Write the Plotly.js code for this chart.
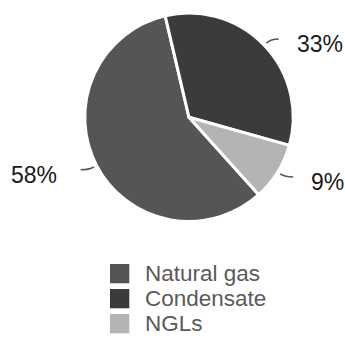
<!DOCTYPE html>
<html>
<head>
<meta charset="utf-8">
<script src="https://cdn.plot.ly/plotly-3.0.1.min.js"></script>
<style>
  html, body { margin: 0; padding: 0; background: #ffffff; }
  #chart { width: 345px; height: 339px; }
</style>
</head>
<body>
<div id="chart"></div>
<script>
// Output split by product (share, %)
const categories = ['Natural gas', 'Condensate', 'NGLs'];
const shares = [58, 33, 9];
const sliceColors = ['#555555', '#3b3b3b', '#b4b4b4'];

const W = 345, H = 339;
const cx = 189, cy = 117.3, R = 104.2;   // pie centre and radius, px
const rotation = 138;                   // start angle of the first slice, deg clockwise from 12 o'clock
const labelFont = { family: 'Liberation Sans, Arial, sans-serif', size: 23, color: '#1a1a1a' };
const legendFont = { family: 'Liberation Sans, Arial, sans-serif', size: 22.5, color: '#5a5a5a' };

const px = x => x / W;
const py = y => 1 - y / H;

const total = shares.reduce((a, b) => a + b, 0);

const pie = {
  type: 'pie',
  labels: categories,
  values: shares,
  sort: false,
  direction: 'clockwise',
  rotation: rotation,
  textinfo: 'none',
  hoverinfo: 'label+percent',
  marker: { colors: sliceColors, line: { color: '#ffffff', width: 3 } },
  domain: { x: [px(cx - R), px(cx + R)], y: [py(cy + R), py(cy - R)] },
  showlegend: false
};

// outside percentage labels with short connectors, placed at each slice's mid-angle
const shapes = [];
const annotations = [];
let acc = 0;
shares.forEach((v, i) => {
  const mid = (rotation + (acc + v / 2) / total * 360) * Math.PI / 180;
  acc += v;
  const s = Math.sin(mid), c = -Math.cos(mid);
  const side = s >= 0 ? 1 : -1;
  const p0 = [cx + (R + 3) * s, cy + (R + 3) * c];
  const p1 = [cx + (R + 9) * s, cy + (R + 9) * c];
  const p2 = [p1[0] + side * 8, p1[1]];
  shapes.push({
    type: 'path', xref: 'paper', yref: 'paper',
    path: `M ${px(p0[0])} ${py(p0[1])} Q ${px(p1[0])} ${py(p1[1])} ${px(p2[0])} ${py(p2[1])}`,
    line: { color: '#555555', width: 1.5 }
  });
  annotations.push({
    xref: 'paper', yref: 'paper', showarrow: false,
    x: px(p2[0] + side * (side > 0 ? 16 : 22)), y: py(p2[1] + 5),
    xanchor: side > 0 ? 'left' : 'right', yanchor: 'middle',
    text: Math.round(v / total * 100) + '%',
    font: labelFont
  });
});

// legend rows: swatch + category name
const legX = 110, legSize = 19.3, legTop = 264, legStep = 25;
categories.forEach((name, i) => {
  const top = legTop + i * legStep;
  shapes.push({
    type: 'rect', xref: 'paper', yref: 'paper',
    x0: px(legX), x1: px(legX + legSize), y0: py(top + legSize), y1: py(top),
    fillcolor: sliceColors[i], line: { width: 0 }
  });
  annotations.push({
    xref: 'paper', yref: 'paper', showarrow: false,
    x: px(legX + 33), y: py(top + legSize / 2),
    xanchor: 'left', yanchor: 'middle',
    text: name, font: legendFont
  });
});

const layout = {
  width: W, height: H,
  margin: { l: 0, r: 0, t: 0, b: 0 },
  paper_bgcolor: '#ffffff',
  plot_bgcolor: '#ffffff',
  showlegend: false,
  shapes: shapes,
  annotations: annotations
};

Plotly.newPlot('chart', [pie], layout, { staticPlot: true, displayModeBar: false });
</script>
</body>
</html>
